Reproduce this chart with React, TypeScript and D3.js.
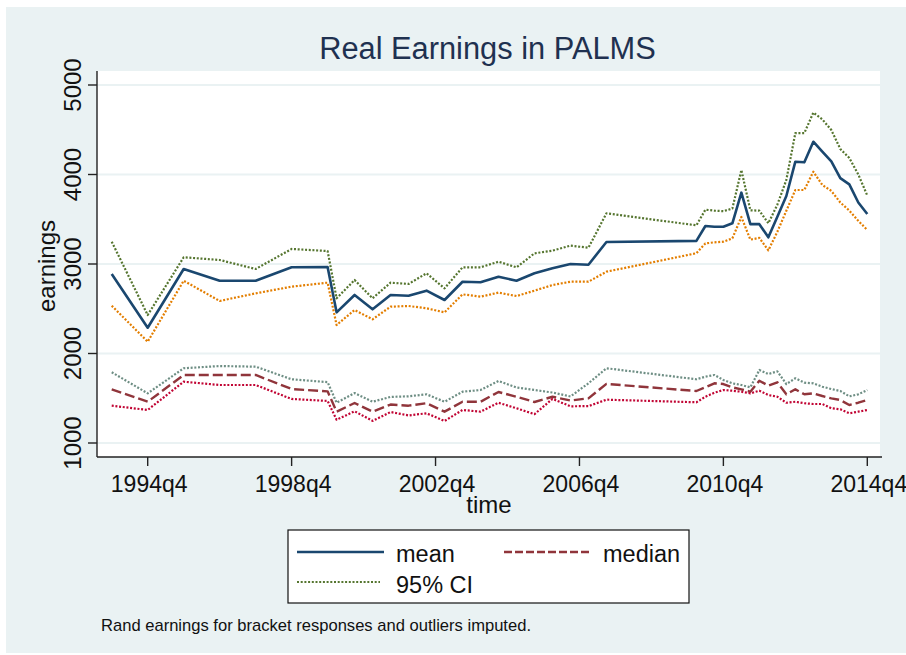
import React from "react";
import * as d3 from "d3";

const periods = [
  "1993q4", "1994q4", "1995q4", "1996q4", "1997q4", "1998q4", "1999q4",
  "2000q1", "2000q3", "2001q1", "2001q3", "2002q1", "2002q3", "2003q1", "2003q3",
  "2004q1", "2004q3", "2005q1", "2005q3", "2006q1", "2006q3", "2007q1", "2007q3",
  "2010q1", "2010q2", "2010q3", "2010q4", "2011q1", "2011q2", "2011q3", "2011q4",
  "2012q1", "2012q2", "2012q3", "2012q4", "2013q1", "2013q2", "2013q3", "2013q4",
  "2014q1", "2014q2", "2014q3", "2014q4",
];

const meanEarnings = [
  2888, 2288, 2944, 2813, 2813, 2963, 2966,
  2460, 2654, 2494, 2654, 2646, 2702, 2598, 2802,
  2796, 2858, 2813, 2896, 2952, 3000, 2992, 3246,
  3258, 3425, 3417, 3417, 3455, 3797, 3445, 3445,
  3298, 3529, 3760, 4143, 4136, 4366, 4255, 4147,
  3960, 3890, 3687, 3559,
];

const meanUpper = [
  3249, 2430, 3075, 3045, 2944, 3168, 3145,
  2617, 2821, 2617, 2791, 2777, 2896, 2728, 2963,
  2963, 3026, 2963, 3119, 3149, 3205, 3182, 3566,
  3432, 3607, 3596, 3590, 3620, 4050, 3600, 3596,
  3455, 3663, 3940, 4463, 4463, 4691, 4616, 4497,
  4285, 4185, 4000, 3765,
];

const meanLower = [
  2534, 2132, 2813, 2587, 2672, 2747, 2791,
  2318, 2486, 2382, 2523, 2531, 2505, 2460, 2661,
  2635, 2680, 2642, 2702, 2765, 2802, 2802, 2914,
  3120, 3230, 3242, 3249, 3287, 3525, 3272, 3292,
  3152, 3360, 3595, 3827, 3827, 4031, 3883, 3817,
  3687, 3597, 3482, 3380,
];

const medianEarnings = [
  1600, 1461, 1760, 1760, 1760, 1603, 1577,
  1350, 1447, 1350, 1430, 1417, 1444, 1350, 1461,
  1461, 1570, 1517, 1458, 1517, 1475, 1499, 1660,
  1581, 1622, 1667, 1659, 1622, 1600, 1573, 1696,
  1640, 1678, 1544, 1600, 1544, 1555, 1525, 1499,
  1480, 1425, 1450, 1480,
];

const medianUpper = [
  1790, 1555, 1835, 1860, 1853, 1712, 1680,
  1450, 1558, 1461, 1515, 1522, 1544, 1461, 1573,
  1592, 1693, 1620, 1592, 1564, 1520, 1667, 1835,
  1712, 1741, 1760, 1704, 1667, 1648, 1622, 1816,
  1771, 1800, 1658, 1723, 1674, 1667, 1629, 1603,
  1581, 1521, 1544, 1592,
];

const medianLower = [
  1417, 1369, 1685, 1648, 1648, 1492, 1470,
  1260, 1354, 1247, 1346, 1308, 1332, 1246, 1369,
  1350, 1450, 1388, 1322, 1493, 1410, 1412, 1484,
  1455, 1517, 1562, 1592, 1584, 1573, 1555, 1584,
  1536, 1517, 1450, 1461, 1444, 1436, 1436, 1388,
  1376, 1332, 1350, 1369,
];

const yTicks = [1000, 2000, 3000, 4000, 5000];
const xTickLabels = ["1994q4", "1998q4", "2002q4", "2006q4", "2010q4", "2014q4"];

const FONT = "'Liberation Sans', Arial, sans-serif";

function qIndex(p: string): number {
  const yr = +p.slice(0, 4);
  const q = +p.slice(5);
  return yr * 4 + (q - 1);
}

type Series = { vals: number[]; color: string; width: number; dash?: string };

export default function App() {
  const W = 906;
  const H = 655;
  const plotL = 97;
  const plotR = 880;
  const plotT = 71;
  const plotB = 457;

  const x = d3
    .scaleLinear()
    .domain([qIndex("1994q4"), qIndex("2014q4")])
    .range([147.7, 867.3]);
  const y = d3.scaleLinear().domain([1000, 5000]).range([443, 85]);

  const lineGen = (vals: number[]) =>
    d3
      .line<number>()
      .x((_, i) => x(qIndex(periods[i])))
      .y((d) => y(d))(vals) || "";

  const dot = "2,1.7";
  const series: Series[] = [
    { vals: meanEarnings, color: "#1a476f", width: 2.6 },
    { vals: medianEarnings, color: "#90353b", width: 2.4, dash: "10,4" },
    { vals: meanUpper, color: "#55752f", width: 2.2, dash: dot },
    { vals: meanLower, color: "#e37e00", width: 2.2, dash: dot },
    { vals: medianUpper, color: "#6e8e84", width: 2.2, dash: dot },
    { vals: medianLower, color: "#c10534", width: 2.2, dash: dot },
  ];

  const bg = "#eaf2f3";

  return (
    <div style={{ position: "absolute", left: 0, top: 0 }}>
      <svg width={W} height={H} style={{ display: "block", fontFamily: FONT }}>
        <rect x={0} y={0} width={W} height={H} fill="#ffffff" />
        <rect x={6} y={7} width={W - 6} height={646} fill={bg} />
        <rect x={plotL} y={plotT} width={plotR - plotL} height={plotB - plotT} fill="#ffffff" />

        {/* gridlines */}
        {yTicks.map((t) => (
          <line key={"g" + t} x1={plotL} x2={plotR} y1={y(t)} y2={y(t)} stroke={bg} strokeWidth={2.2} />
        ))}

        {/* series */}
        {series.map((s, i) => (
          <path
            key={"s" + i}
            d={lineGen(s.vals)}
            fill="none"
            stroke={s.color}
            strokeWidth={s.width}
            strokeDasharray={s.dash}
            strokeLinejoin="round"
          />
        ))}

        {/* axes */}
        <line x1={plotL} x2={plotL} y1={plotT} y2={plotB} stroke="#222" strokeWidth={1.4} />
        <line x1={plotL} x2={882} y1={plotB} y2={plotB} stroke="#222" strokeWidth={1.4} />

        {yTicks.map((t) => (
          <g key={"yt" + t}>
            <line x1={88} x2={plotL} y1={y(t)} y2={y(t)} stroke="#222" strokeWidth={1.4} />
            <text
              transform={`translate(81,${y(t)}) rotate(-90)`}
              textAnchor="middle"
              fontSize={24}
              fill="#111"
            >
              {t}
            </text>
          </g>
        ))}

        {xTickLabels.map((lbl) => {
          const xv = x(qIndex(lbl));
          return (
            <g key={"xt" + lbl}>
              <line x1={xv} x2={xv} y1={plotB} y2={plotB + 9} stroke="#222" strokeWidth={1.4} />
              <text x={xv + 1.5} y={491.5} textAnchor="middle" fontSize={23} fill="#111">
                {lbl}
              </text>
            </g>
          );
        })}

        {/* axis titles */}
        <text x={489} y={513} textAnchor="middle" fontSize={24} fill="#111">
          time
        </text>
        <text transform="translate(55,266) rotate(-90)" textAnchor="middle" fontSize={24} fill="#111">
          earnings
        </text>

        {/* title */}
        <text x={487.5} y={59.3} textAnchor="middle" fontSize={30.8} fill="#1f3150">
          Real Earnings in PALMS
        </text>

        {/* legend */}
        <rect x={288} y={530} width={401} height={73} fill="#ffffff" stroke="#111" strokeWidth={1.2} />
        <line x1={297} x2={384} y1={552} y2={552} stroke="#1a476f" strokeWidth={2.6} />
        <text x={396} y={561.5} fontSize={23.5} fill="#111">mean</text>
        <line x1={504} x2={592} y1={552} y2={552} stroke="#90353b" strokeWidth={2.4} strokeDasharray="8,3" />
        <text x={603} y={561.5} fontSize={23.5} fill="#111">median</text>
        <line x1={297} x2={380} y1={582} y2={582} stroke="#55752f" strokeWidth={2.2} strokeDasharray={dot} />
        <text x={396} y={592.5} fontSize={23.5} fill="#111">95% CI</text>

        {/* note */}
        <text x={101} y={631} fontSize={17} fill="#111" textLength={430} lengthAdjust="spacingAndGlyphs">
          Rand earnings for bracket responses and outliers imputed.
        </text>
      </svg>
    </div>
  );
}
